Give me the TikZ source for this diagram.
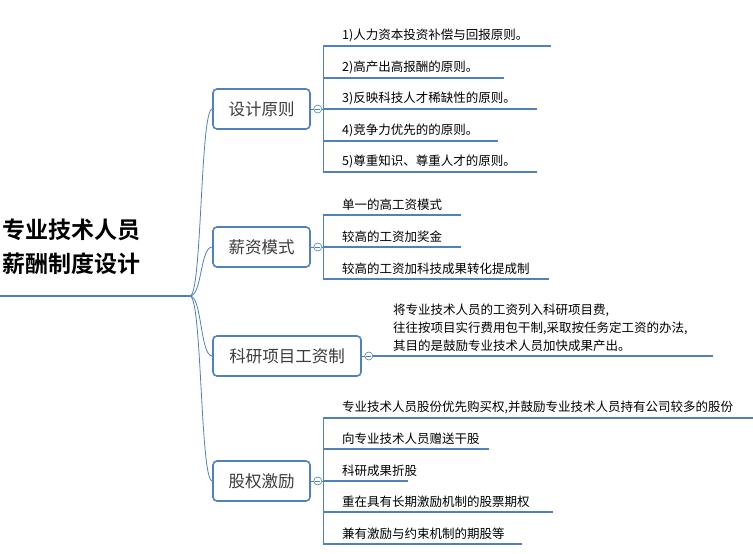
\documentclass[tikz,border=0pt]{standalone}
\usepackage{fontspec}
\usetikzlibrary{calc}
\newfontfamily\cjk{Noto Sans CJK SC}
\newfontfamily\cjkb{Noto Sans CJK SC Bold}
\begin{document}
\begin{tikzpicture}[x=1pt,y=-1pt,
  lc/.style={draw={rgb,255:red,79;green,129;blue,189}},
  topic/.style={lc,line width=1.6pt,rounded corners=4pt,fill=white,minimum height=40pt,inner xsep=12pt,font=\cjk\fontsize{16.5}{16.5}\selectfont,text={rgb,255:red,60;green,60;blue,60}},
  leaf/.style={anchor=south west,inner sep=1pt,font=\cjk\fontsize{12.5}{14}\selectfont,text=black},
  uline/.style={lc,line width=2.2pt},
  thin/.style={lc,line width=0.8pt},
  knob/.style={circle,lc,line width=0.6pt,fill=white,minimum size=8pt,inner sep=0pt}]
\useasboundingbox (0,0) rectangle (753,554);
\node[anchor=west,align=left,font=\cjkb\fontsize{23}{34}\selectfont,inner sep=0pt] (root) at (2,247) {专业技术人员\\薪酬制度设计};
\coordinate (r0) at (0,296);
\coordinate (rb) at (180,296);
\coordinate (hub) at (190,296);
\draw[lc,line width=1.5pt] (r0) -- (rb) -- (hub);
\node[topic,minimum width=97pt] (t1) at (261.5,109) {设计原则};
\node[topic,minimum width=97pt] (t2) at (261.5,247) {薪资模式};
\node[topic,minimum width=148pt] (t3) at (287,356) {科研项目工资制};
\node[topic,minimum width=97pt] (t4) at (261.5,481) {股权激励};
\foreach \t in {t1,t2,t3,t4}{
  \draw[thin] (hub) .. controls ($(hub)+(12,0)$) and ($(\t.west)+(-12,0)$) .. (\t.west);
}
% knobs
\foreach \t in {t1,t2,t4}{
  \node[knob] (k\t) at ($(\t.east)+(7,0)$) {};
  \draw[thin] (\t.east) -- (k\t.west);
  \draw[thin] ($(k\t.center)+(-2.5,0)$) -- ($(k\t.center)+(2.5,0)$);
}
\node[knob] (kt3) at ($(t3.east)+(7,0)$) {};
\draw[thin] (t3.east) -- (kt3.west);
\draw[thin] ($(kt3.center)+(-2.5,0)$) -- ($(kt3.center)+(2.5,0)$);
% branch 1
\coordinate (b1a) at (323,46); \coordinate (b1b) at (323,172);
\draw[thin] (kt1.east) -- (323,109);
\draw[thin] (b1a) -- (b1b);
\foreach \y/\e/\txt [count=\i] in {46/551/{1)人力资本投资补偿与回报原则。},78/504/{2)高产出高报酬的原则。},109/537/{3)反映科技人才稀缺性的原则。},141/498/{4)竞争力优先的的原则。},172/537/{5)尊重知识、尊重人才的原则。}}{
  \coordinate (s1\i) at (323,\y);
  \coordinate (e1\i) at (\e,\y);
  \draw[uline] (s1\i) -- (e1\i);
  \node[leaf] (l1\i) at (341,\y-3) {\txt};
}
% branch 2
\draw[thin] (kt2.east) -- (323,247);
\draw[thin] (323,215) -- (323,279);
\foreach \y/\e/\txt [count=\i] in {215/461/{单一的高工资模式},247/461/{较高的工资加奖金},279/549/{较高的工资加科技成果转化提成制}}{
  \coordinate (s2\i) at (323,\y);
  \coordinate (e2\i) at (\e,\y);
  \draw[uline] (s2\i) -- (e2\i);
  \node[leaf] (l2\i) at (341,\y-3) {\txt};
}
% branch 3
\coordinate (e3) at (713,356);
\draw[uline] (kt3.east) -- (e3);
\node[anchor=south west,align=left,inner sep=1pt,font=\cjk\fontsize{12.5}{18}\selectfont] (l3) at (392,353) {将专业技术人员的工资列入科研项目费,\\往往按项目实行费用包干制,采取按任务定工资的办法,\\其目的是鼓励专业技术人员加快成果产出。};
% branch 4
\draw[thin] (kt4.east) -- (323,481);
\draw[thin] (323,418) -- (323,544);
\foreach \y/\e/\txt [count=\i] in {418/753/{专业技术人员股份优先购买权,并鼓励专业技术人员持有公司较多的股份},449/489/{向专业技术人员赠送干股},481/408/{科研成果折股},512/553/{重在具有长期激励机制的股票期权},544/522/{兼有激励与约束机制的期股等}}{
  \coordinate (s4\i) at (323,\y);
  \coordinate (e4\i) at (\e,\y);
  \draw[uline] (s4\i) -- (e4\i);
  \node[leaf] (l4\i) at (341,\y-3) {\txt};
}
\end{tikzpicture}
\end{document}
